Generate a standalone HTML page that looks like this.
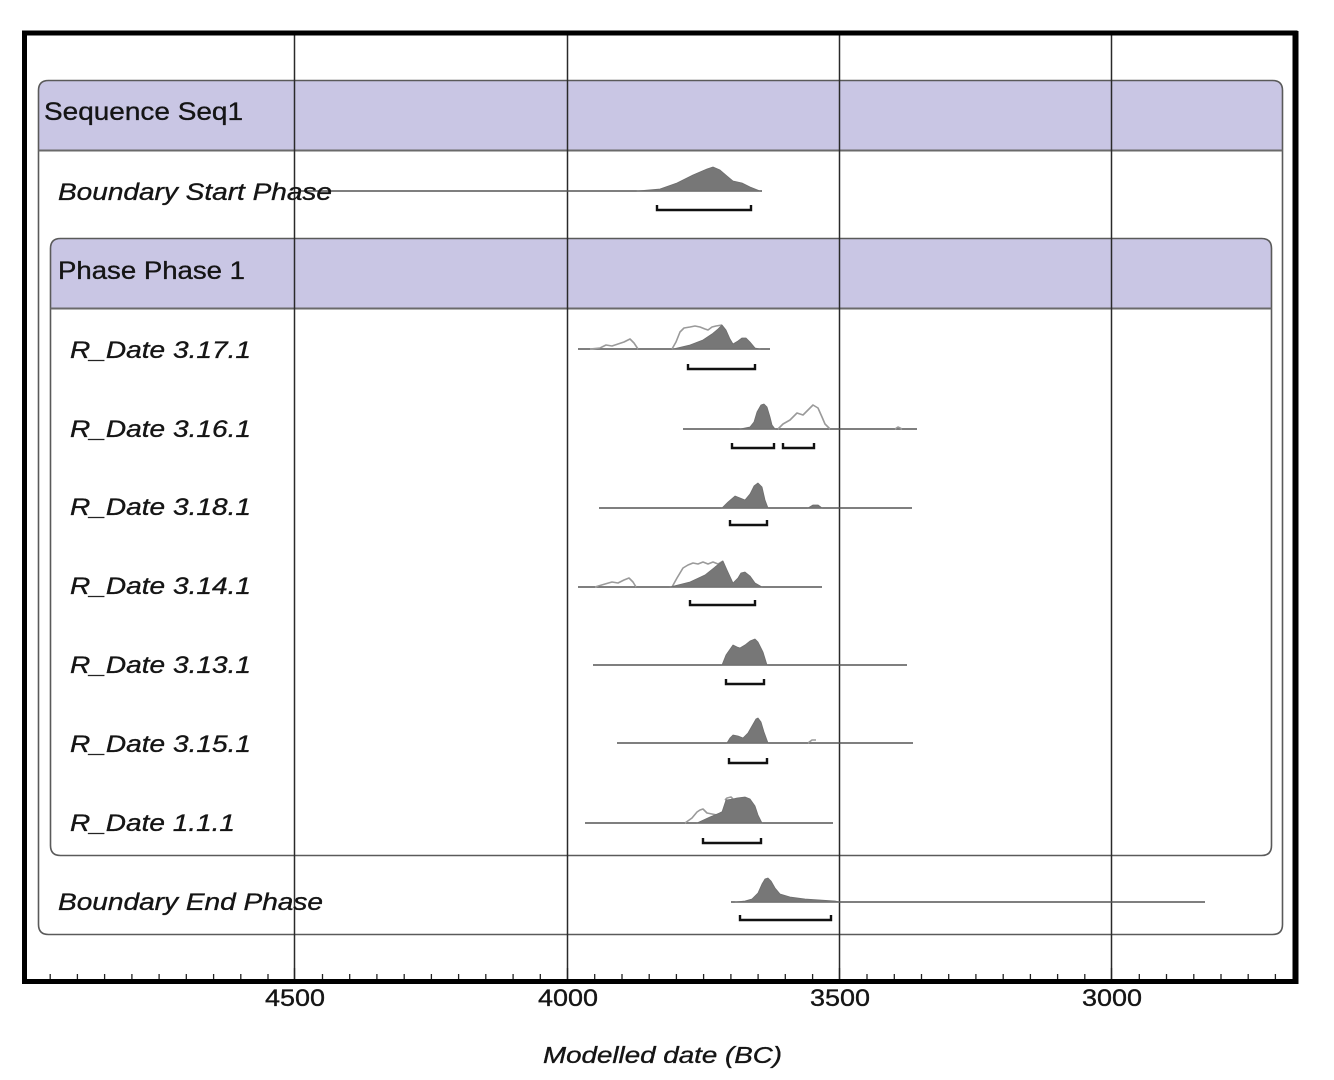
<!DOCTYPE html>
<html>
<head>
<meta charset="utf-8">
<style>
  html,body{margin:0;padding:0;background:#fff;}
  svg{display:block;}
  text{font-family:"Liberation Sans","DejaVu Sans",sans-serif;fill:#151515;stroke:#151515;stroke-width:0.35;}
  .it{font-style:italic;}
</style>
</head>
<body>
<svg width="1334" height="1080" viewBox="0 0 1334 1080" xmlns="http://www.w3.org/2000/svg">
  <rect x="0" y="0" width="1334" height="1080" fill="#fff"/>

  <path d="M38.5,150 L38.5,90.5 Q38.5,80.5 48.5,80.5 L1272.5,80.5 Q1282.5,80.5 1282.5,90.5 L1282.5,150 Z" fill="#c9c6e4"/>
  <path d="M48.5,80.5 L1272.5,80.5 Q1282.5,80.5 1282.5,90.5 L1282.5,924.5 Q1282.5,934.5 1272.5,934.5 L48.5,934.5 Q38.5,934.5 38.5,924.5 L38.5,90.5 Q38.5,80.5 48.5,80.5 Z" fill="none" stroke="#5a5a5a" stroke-width="1.6"/>
  <line x1="38.5" y1="150.5" x2="1282.5" y2="150.5" stroke="#6a6a6a" stroke-width="2"/>

  <path d="M50.5,308 L50.5,248.5 Q50.5,238.5 60.5,238.5 L1261.5,238.5 Q1271.5,238.5 1271.5,248.5 L1271.5,308 Z" fill="#c9c6e4"/>
  <path d="M60.5,238.5 L1261.5,238.5 Q1271.5,238.5 1271.5,248.5 L1271.5,845.5 Q1271.5,855.5 1261.5,855.5 L60.5,855.5 Q50.5,855.5 50.5,845.5 L50.5,248.5 Q50.5,238.5 60.5,238.5 Z" fill="none" stroke="#5a5a5a" stroke-width="1.6"/>
  <line x1="50.5" y1="308.5" x2="1271.5" y2="308.5" stroke="#6a6a6a" stroke-width="2"/>

  <g stroke="#2a2a2a" stroke-width="1.5">
    <line x1="294.5" y1="35" x2="294.5" y2="980"/>
    <line x1="567.5" y1="35" x2="567.5" y2="980"/>
    <line x1="839.5" y1="35" x2="839.5" y2="980"/>
    <line x1="1111.5" y1="35" x2="1111.5" y2="980"/>
  </g>

  <g stroke="#555" stroke-width="1.5">
    <line x1="300" y1="191" x2="762" y2="191"/>
    <line x1="578" y1="349" x2="770" y2="349"/>
    <line x1="683" y1="429" x2="917" y2="429"/>
    <line x1="599" y1="508" x2="912" y2="508"/>
    <line x1="578" y1="587" x2="822" y2="587"/>
    <line x1="593" y1="665" x2="907" y2="665"/>
    <line x1="617" y1="743" x2="913" y2="743"/>
    <line x1="585" y1="823" x2="833" y2="823"/>
    <line x1="731" y1="902" x2="1205" y2="902"/>
  </g>

  <g fill="none" stroke="#9a9a9a" stroke-width="1.6" stroke-linejoin="round">
    <polyline points="590,349 600,348 606,345 612,346 618,344 624,342 630,339 634,343 638,349"/>
    <polyline points="672,349 676,342 680,332 684,328 690,327 695,326 700,327 705,329 708,330 712,327 716,326 722,325"/>
    <polyline points="778,429 783,424 790,420 797,413 803,415 808,410 813,405 818,408 822,417 825,424 830,429"/>
    <polyline points="895,429 898,427 902,429"/>
    <polyline points="595,587 605,584 612,582 618,583 624,580 629,578 633,582 636,587"/>
    <polyline points="672,587 677,578 683,568 688,565 693,563 698,564 703,562 708,564 713,562 718,564 723,561"/>
    <polyline points="808,743 812,740 816,740"/>
    <polyline points="685,823 692,818 697,812 700,810 703,809 707,813 712,814 717,815 722,812"/>
    <polyline points="725,800 727,798 731,797 733,799"/>
  </g>

  <g fill="#777" stroke="#6e6e6e" stroke-width="0.8" stroke-linejoin="round">
    <polygon points="637,191 660,189 677,183 693,175 707,169 713,167 720,170 727,176 733,181 742,183 750,187 760,191"/>
    <polygon points="673,349 690,345 703,340 712,334 718,329 722,325 726,330 730,339 733,344 738,341 742,338 746,338 750,342 755,348 760,349"/>
    <polygon points="740,429 750,427 754,422 757,412 761,405 764,404 767,407 770,417 772,425 775,429"/>
    <polygon points="722,508 728,502 735,496 740,498 745,500 750,494 754,486 758,483 762,487 765,500 768,508"/>
    <polygon points="808,508 813,505 818,505 822,508"/>
    <polygon points="670,587 690,582 705,575 715,567 723,561 727,570 733,583 738,578 741,573 745,572 750,576 755,583 762,587"/>
    <polygon points="722,665 726,655 733,645 737,647 740,648 745,645 750,641 755,639 758,642 763,652 767,665"/>
    <polygon points="727,743 730,738 733,735 738,736 743,738 748,733 752,726 756,719 758,718 761,722 764,732 768,743"/>
    <polygon points="697,823 710,817 722,812 724,806 726,800 733,799 737,798 745,797 750,799 755,806 758,815 762,823"/>
    <polygon points="735,902 745,901 752,899 758,893 762,884 765,879 768,878 771,881 775,888 780,894 790,897 805,899 820,900 835,901 840,902"/>
  </g>

  <g fill="none" stroke="#111" stroke-width="2.4">
    <polyline points="657,205 657,210 751,210 751,205"/>
    <polyline points="688,364 688,369 755,369 755,364"/>
    <polyline points="732,443 732,448 774,448 774,443"/>
    <polyline points="783,443 783,448 814,448 814,443"/>
    <polyline points="730,520 730,525 767,525 767,520"/>
    <polyline points="690,600 690,605 755,605 755,600"/>
    <polyline points="726,679 726,684 764,684 764,679"/>
    <polyline points="729,758 729,763 767,763 767,758"/>
    <polyline points="703,838 703,843 761,843 761,838"/>
    <polyline points="740,915 740,920 831,920 831,915"/>
  </g>

  <text x="44" y="120" font-size="25" textLength="199" lengthAdjust="spacingAndGlyphs">Sequence Seq1</text>
  <text x="58" y="200" font-size="24" class="it" textLength="274" lengthAdjust="spacingAndGlyphs">Boundary Start Phase</text>
  <text x="58" y="279" font-size="25" textLength="187" lengthAdjust="spacingAndGlyphs">Phase Phase 1</text>
  <text x="70" y="358" font-size="24" class="it" textLength="181" lengthAdjust="spacingAndGlyphs">R_Date 3.17.1</text>
  <text x="70" y="437" font-size="24" class="it" textLength="181" lengthAdjust="spacingAndGlyphs">R_Date 3.16.1</text>
  <text x="70" y="515" font-size="24" class="it" textLength="181" lengthAdjust="spacingAndGlyphs">R_Date 3.18.1</text>
  <text x="70" y="594" font-size="24" class="it" textLength="181" lengthAdjust="spacingAndGlyphs">R_Date 3.14.1</text>
  <text x="70" y="673" font-size="24" class="it" textLength="181" lengthAdjust="spacingAndGlyphs">R_Date 3.13.1</text>
  <text x="70" y="752" font-size="24" class="it" textLength="181" lengthAdjust="spacingAndGlyphs">R_Date 3.15.1</text>
  <text x="70" y="831" font-size="24" class="it" textLength="165" lengthAdjust="spacingAndGlyphs">R_Date 1.1.1</text>
  <text x="58" y="910" font-size="24" class="it" textLength="265" lengthAdjust="spacingAndGlyphs">Boundary End Phase</text>

  <g stroke="#222" stroke-width="1.3">
    <line x1="50.2" y1="974" x2="50.2" y2="980"/>
    <line x1="77.4" y1="974" x2="77.4" y2="980"/>
    <line x1="104.6" y1="974" x2="104.6" y2="980"/>
    <line x1="131.9" y1="974" x2="131.9" y2="980"/>
    <line x1="159.1" y1="974" x2="159.1" y2="980"/>
    <line x1="186.3" y1="974" x2="186.3" y2="980"/>
    <line x1="213.6" y1="974" x2="213.6" y2="980"/>
    <line x1="240.8" y1="974" x2="240.8" y2="980"/>
    <line x1="268.0" y1="974" x2="268.0" y2="980"/>
    <line x1="294.5" y1="968" x2="294.5" y2="980"/>
    <line x1="322.5" y1="974" x2="322.5" y2="980"/>
    <line x1="349.7" y1="974" x2="349.7" y2="980"/>
    <line x1="376.9" y1="974" x2="376.9" y2="980"/>
    <line x1="404.2" y1="974" x2="404.2" y2="980"/>
    <line x1="431.4" y1="974" x2="431.4" y2="980"/>
    <line x1="458.6" y1="974" x2="458.6" y2="980"/>
    <line x1="485.8" y1="974" x2="485.8" y2="980"/>
    <line x1="513.1" y1="974" x2="513.1" y2="980"/>
    <line x1="540.3" y1="974" x2="540.3" y2="980"/>
    <line x1="567.5" y1="968" x2="567.5" y2="980"/>
    <line x1="594.7" y1="974" x2="594.7" y2="980"/>
    <line x1="622.0" y1="974" x2="622.0" y2="980"/>
    <line x1="649.2" y1="974" x2="649.2" y2="980"/>
    <line x1="676.4" y1="974" x2="676.4" y2="980"/>
    <line x1="703.6" y1="974" x2="703.6" y2="980"/>
    <line x1="730.9" y1="974" x2="730.9" y2="980"/>
    <line x1="758.1" y1="974" x2="758.1" y2="980"/>
    <line x1="785.3" y1="974" x2="785.3" y2="980"/>
    <line x1="812.6" y1="974" x2="812.6" y2="980"/>
    <line x1="839.5" y1="968" x2="839.5" y2="980"/>
    <line x1="867.0" y1="974" x2="867.0" y2="980"/>
    <line x1="894.3" y1="974" x2="894.3" y2="980"/>
    <line x1="921.5" y1="974" x2="921.5" y2="980"/>
    <line x1="948.7" y1="974" x2="948.7" y2="980"/>
    <line x1="975.9" y1="974" x2="975.9" y2="980"/>
    <line x1="1003.2" y1="974" x2="1003.2" y2="980"/>
    <line x1="1030.4" y1="974" x2="1030.4" y2="980"/>
    <line x1="1057.6" y1="974" x2="1057.6" y2="980"/>
    <line x1="1084.8" y1="974" x2="1084.8" y2="980"/>
    <line x1="1111.5" y1="968" x2="1111.5" y2="980"/>
    <line x1="1139.3" y1="974" x2="1139.3" y2="980"/>
    <line x1="1166.5" y1="974" x2="1166.5" y2="980"/>
    <line x1="1193.8" y1="974" x2="1193.8" y2="980"/>
    <line x1="1221.0" y1="974" x2="1221.0" y2="980"/>
    <line x1="1248.2" y1="974" x2="1248.2" y2="980"/>
    <line x1="1275.4" y1="974" x2="1275.4" y2="980"/>
  </g>

  <rect x="24.5" y="33" width="1270.5" height="948.5" fill="none" stroke="#000" stroke-width="5"/>
  <line x1="1295.5" y1="31" x2="1295.5" y2="984" stroke="#000" stroke-width="6"/>

  <text x="295" y="1006" font-size="24" text-anchor="middle" textLength="60" lengthAdjust="spacingAndGlyphs">4500</text>
  <text x="568" y="1006" font-size="24" text-anchor="middle" textLength="60" lengthAdjust="spacingAndGlyphs">4000</text>
  <text x="840" y="1006" font-size="24" text-anchor="middle" textLength="60" lengthAdjust="spacingAndGlyphs">3500</text>
  <text x="1112" y="1006" font-size="24" text-anchor="middle" textLength="60" lengthAdjust="spacingAndGlyphs">3000</text>
  <text x="543" y="1063" font-size="23" class="it" textLength="239" lengthAdjust="spacingAndGlyphs">Modelled date (BC)</text>
</svg>
</body>
</html>
